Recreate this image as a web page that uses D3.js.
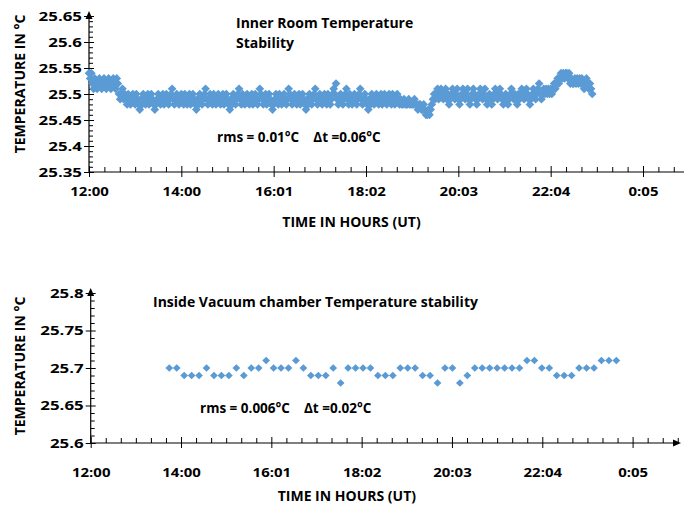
<!DOCTYPE html>
<html>
<head>
<meta charset="utf-8">
<script src="https://cdn.jsdelivr.net/npm/d3@7"></script>
<style>
  body { margin: 0; background: #fff; }
  svg text { font-family: "Open Sans", sans-serif; font-weight: bold; fill: #000; }
</style>
</head>
<body>
<div id="chart"></div>
<script>
// time axis in hours, 12:00 = 12 ... 0:05 = 24
var xTickValues = [12, 14, 16, 18, 20, 22, 24];
var xTickLabels = ["12:00", "14:00", "16:01", "18:02", "20:03", "22:04", "0:05"];

// inner room, one reading every 1.5 minutes from 12:00 (20 per row = 30 min)
var roomStart = 12, roomStep = 0.025;
var roomTemp = [
  25.54,25.53,25.54,25.52,25.51,25.53,25.52,25.51,25.52,25.53,25.52,25.51,25.52,25.53,25.52,25.51,25.52,25.53,25.52,25.51,
  25.52,25.53,25.52,25.51,25.53,25.52,25.50,25.49,25.50,25.51,25.49,25.50,25.49,25.48,25.50,25.49,25.48,25.49,25.50,25.49,
  25.48,25.50,25.49,25.48,25.47,25.49,25.48,25.50,25.49,25.48,25.49,25.50,25.48,25.49,25.50,25.49,25.48,25.47,25.48,25.49,
  25.50,25.49,25.48,25.49,25.50,25.48,25.49,25.50,25.49,25.48,25.49,25.50,25.51,25.49,25.48,25.49,25.50,25.49,25.48,25.49,
  25.50,25.49,25.48,25.50,25.49,25.48,25.49,25.50,25.48,25.49,25.50,25.49,25.48,25.47,25.49,25.48,25.50,25.49,25.48,25.49,
  25.50,25.51,25.49,25.48,25.49,25.50,25.49,25.48,25.50,25.49,25.48,25.49,25.50,25.49,25.48,25.49,25.50,25.48,25.49,25.50,
  25.49,25.48,25.47,25.49,25.48,25.50,25.49,25.48,25.49,25.50,25.51,25.49,25.48,25.50,25.49,25.48,25.49,25.50,25.49,25.48,
  25.49,25.50,25.48,25.49,25.50,25.49,25.48,25.49,25.51,25.50,25.49,25.48,25.49,25.50,25.48,25.49,25.50,25.49,25.48,25.47,
  25.48,25.49,25.50,25.49,25.48,25.50,25.49,25.48,25.49,25.50,25.49,25.48,25.49,25.51,25.50,25.49,25.48,25.49,25.50,25.49,
  25.48,25.49,25.50,25.48,25.49,25.50,25.49,25.48,25.47,25.49,25.48,25.50,25.49,25.48,25.49,25.50,25.51,25.49,25.48,25.49,
  25.50,25.49,25.48,25.49,25.50,25.49,25.48,25.50,25.49,25.48,25.49,25.50,25.51,25.50,25.52,25.49,25.48,25.49,25.50,25.49,
  25.48,25.49,25.50,25.51,25.49,25.48,25.50,25.49,25.48,25.49,25.50,25.49,25.48,25.49,25.50,25.51,25.49,25.48,25.49,25.50,
  25.49,25.48,25.47,25.49,25.48,25.50,25.49,25.48,25.49,25.50,25.49,25.48,25.49,25.50,25.48,25.49,25.50,25.49,25.48,25.49,
  25.50,25.49,25.48,25.50,25.49,25.48,25.49,25.50,25.49,25.48,25.49,25.48,25.48,25.49,25.48,25.48,25.48,25.49,25.48,25.48,
  25.48,25.48,25.49,25.48,25.48,25.47,25.48,25.48,25.47,25.47,25.48,25.47,25.46,25.46,25.47,25.46,25.47,25.48,25.49,25.50,
  25.49,25.50,25.51,25.49,25.50,25.51,25.50,25.49,25.50,25.51,25.49,25.50,25.48,25.49,25.50,25.51,25.50,25.49,25.50,25.51,
  25.49,25.48,25.49,25.50,25.51,25.50,25.49,25.50,25.51,25.49,25.48,25.49,25.50,25.51,25.50,25.49,25.48,25.49,25.50,25.51,
  25.50,25.49,25.50,25.51,25.49,25.48,25.49,25.50,25.49,25.48,25.49,25.50,25.51,25.50,25.49,25.50,25.51,25.50,25.49,25.48,
  25.49,25.50,25.49,25.48,25.49,25.50,25.51,25.50,25.49,25.50,25.49,25.48,25.50,25.49,25.50,25.51,25.50,25.49,25.50,25.51,
  25.50,25.49,25.48,25.49,25.50,25.51,25.50,25.49,25.50,25.51,25.52,25.50,25.49,25.50,25.51,25.50,25.51,25.50,25.51,25.50,
  25.51,25.50,25.51,25.52,25.51,25.52,25.53,25.52,25.53,25.54,25.53,25.54,25.53,25.54,25.54,25.53,25.54,25.52,25.53,25.52,
  25.52,25.53,25.52,25.53,25.52,25.53,25.52,25.53,25.52,25.51,25.52,25.53,25.52,25.51,25.52,25.51,25.50
];

// vacuum chamber, one reading about every 10 minutes
var vacStart = 13.74, vacStep = 0.165;
var vacTemp = [
  25.70,25.70,25.69,25.69,25.69,25.70,25.69,25.69,25.69,25.70,
  25.69,25.70,25.70,25.71,25.70,25.70,25.70,25.71,25.70,25.69,
  25.69,25.69,25.70,25.68,25.70,25.70,25.70,25.70,25.69,25.69,
  25.69,25.70,25.70,25.70,25.69,25.69,25.68,25.70,25.70,25.68,
  25.69,25.70,25.70,25.70,25.70,25.70,25.70,25.70,25.71,25.71,
  25.70,25.70,25.69,25.69,25.69,25.70,25.70,25.70,25.71,25.71,
  25.71
];

var roomYTicks = [25.35, 25.4, 25.45, 25.5, 25.55, 25.6, 25.65];
var roomYLabels = ["25.35", "25.4", "25.45", "25.5", "25.55", "25.6", "25.65"];
var vacYTicks = [25.6, 25.65, 25.7, 25.75, 25.8];
var vacYLabels = ["25.6", "25.65", "25.7", "25.75", "25.8"];

var W = 684, H = 509;
var blue = "#5b9bd5";

var svg = d3.select("#chart").append("svg")
  .attr("width", W).attr("height", H);

function panel(p) {
  var g = svg.append("g");
  var x = d3.scaleLinear().domain([12, 24]).range([p.x0, p.x24]);
  var y = d3.scaleLinear().domain(p.yDomain).range(p.yRange);
  var axisY = p.yRange[0];
  var xEnd = x.invert(p.xAxisEnd);

  // x axis: major ticks cross the line, minor ticks above it
  var minor = d3.range(12, xEnd, 1 / 3).filter(function(d) {
    return Math.abs(d - Math.round(d / 2) * 2) > 0.01;
  });
  var xAxis = g.append("g").attr("transform", "translate(0," + axisY + ")")
    .call(d3.axisBottom(x).tickValues(xTickValues).tickSize(4)
      .tickFormat(function(d, i) { return xTickLabels[i]; }));
  xAxis.select(".domain").remove();
  xAxis.selectAll(".tick line").attr("y1", -6).attr("y2", 5).attr("stroke", "#000");
  xAxis.selectAll(".tick text").attr("font-size", 13)
    .attr("y", p.xLabelDy).attr("dy", 0)
    .attr("transform", "scale(1.15,1)");
  var xMinor = g.append("g").attr("transform", "translate(0," + axisY + ")")
    .call(d3.axisTop(x).tickValues(minor).tickSize(5).tickFormat(""));
  xMinor.select(".domain").remove();
  xMinor.selectAll(".tick line").attr("stroke", "#000");
  g.append("line")
    .attr("x1", p.x0).attr("x2", p.xAxisEnd)
    .attr("y1", axisY).attr("y2", axisY)
    .attr("stroke", "#000").attr("stroke-width", 1.2);
  if (p.xArrow) {
    g.append("path")
      .attr("d", "M" + (p.xAxisEnd + 2) + "," + axisY + "l-8,-3.5v7z")
      .attr("fill", "#000");
  }

  // y axis
  var yAxis = g.append("g").attr("transform", "translate(" + p.x0 + ",0)")
    .call(d3.axisLeft(y).tickValues(p.yTicks).tickSize(5)
      .tickFormat(function(d, i) { return p.yLabels[i]; }));
  yAxis.select(".domain").remove();
  yAxis.selectAll(".tick line").attr("x2", -5).attr("x1", 5).attr("stroke", "#000");
  yAxis.selectAll(".tick text").attr("font-size", 13)
    .attr("x", -7 / 1.3).attr("transform", "scale(1.3,1)");
  var yMinorVals = d3.range(p.yDomain[0] + 0.01, p.yDomain[1] - 0.001, 0.01)
    .filter(function(d) { return Math.abs(d * 20 - Math.round(d * 20)) > 0.05; });
  var yMinor = g.append("g").attr("transform", "translate(" + p.x0 + ",0)")
    .call(d3.axisRight(y).tickValues(yMinorVals).tickSize(4).tickFormat(""));
  yMinor.select(".domain").remove();
  yMinor.selectAll(".tick line").attr("stroke", "#000");
  g.append("line")
    .attr("x1", p.x0).attr("x2", p.x0)
    .attr("y1", axisY).attr("y2", p.yArrowTip + 4)
    .attr("stroke", "#000").attr("stroke-width", 1.2);
  g.append("path")
    .attr("d", "M" + p.x0 + "," + p.yArrowTip + "l-3.5,8h7z")
    .attr("fill", "#000");

  // points (Excel-style diamonds)
  g.append("g").selectAll("path")
    .data(p.values)
    .join("path")
    .attr("d", d3.symbol(d3.symbolSquare, p.markerSize))
    .attr("transform", function(d, i) {
      return "translate(" + x(p.start + i * p.step) + "," + y(d) + ") rotate(45)";
    })
    .attr("fill", blue);

  // titles and notes
  g.append("text")
    .attr("x", (p.x0 + p.xAxisEnd) / 2 + p.xTitleShift).attr("y", p.xTitleY)
    .attr("text-anchor", "middle").attr("font-size", 14)
    .text("TIME IN HOURS (UT)");
  g.append("text")
    .attr("transform", "translate(25," + p.yTitleY + ") rotate(-90)")
    .attr("text-anchor", "middle").attr("font-size", 14)
    .text("TEMPERATURE IN °C");
  p.title.forEach(function(line, i) {
    g.append("text")
      .attr("x", p.titleX).attr("y", p.titleY + i * 20)
      .attr("font-size", 14).text(line);
  });
  g.append("text")
    .attr("x", p.noteX).attr("y", p.noteY)
    .attr("font-size", 13.5).style("white-space", "pre")
    .text(p.note);
}

panel({
  x0: 89, x24: 643, xAxisEnd: 690, xArrow: false,
  yDomain: [25.35, 25.65], yRange: [172, 16], yArrowTip: 11,
  yTicks: roomYTicks, yLabels: roomYLabels,
  values: roomTemp, start: roomStart, step: roomStep, markerSize: 38,
  xLabelDy: 24, xTitleY: 227, xTitleShift: -38, yTitleY: 84,
  title: ["Inner Room Temperature", "Stability"], titleX: 236, titleY: 28,
  note: "rms = 0.01°C    Δt =0.06°C", noteX: 217, noteY: 142
});

panel({
  x0: 90.7, x24: 632.6, xAxisEnd: 679, xArrow: true,
  yDomain: [25.6, 25.8], yRange: [443, 293], yArrowTip: 288,
  yTicks: vacYTicks, yLabels: vacYLabels,
  values: vacTemp, start: vacStart, step: vacStep, markerSize: 30,
  xLabelDy: 34, xTitleY: 501, xTitleShift: -38, yTitleY: 366,
  title: ["Inside Vacuum chamber Temperature stability"], titleX: 153, titleY: 307,
  note: "rms = 0.006°C    Δt =0.02°C", noteX: 200, noteY: 413
});
</script>
</body>
</html>
